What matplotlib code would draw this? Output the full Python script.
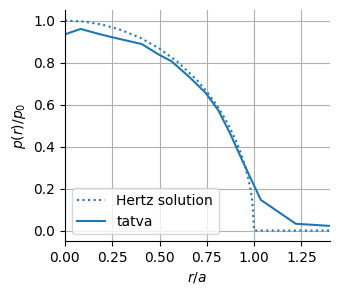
import matplotlib
matplotlib.use("Agg")
import matplotlib.pyplot as plt

# Hertz solution
r_hertz = [0.0, 0.1, 0.2, 0.3, 0.4, 0.5, 0.6, 0.7, 0.75, 0.8, 0.85, 0.9,
           0.93, 0.95, 0.97, 0.98, 0.99, 1.0, 1.4]
p_hertz = [1.0, 0.995, 0.98, 0.954, 0.917, 0.866, 0.8, 0.714, 0.661, 0.6,
           0.527, 0.436, 0.368, 0.312, 0.243, 0.199, 0.141, 0.0, 0.0]

# tatva
r_tatva = [0.0, 0.083, 0.176, 0.247, 0.406, 0.494, 0.565, 0.661, 0.743,
           0.811, 0.873, 0.935, 1.035, 1.22, 1.40]
p_tatva = [0.934, 0.96, 0.937, 0.921, 0.888, 0.839, 0.805, 0.728, 0.656,
           0.572, 0.462, 0.338, 0.146, 0.032, 0.022]

fig = plt.figure(figsize=(3.38, 2.95), dpi=100)
ax = fig.add_axes([0.192, 0.183, 0.784, 0.783])

ax.plot(r_hertz, p_hertz, ':', color='C0', label='Hertz solution')
ax.plot(r_tatva, p_tatva, '-', color='C0', label='tatva')

ax.set_xlim(0, 1.4)
ax.set_ylim(-0.05, 1.05)
ax.set_xticks([0, 0.25, 0.5, 0.75, 1.0, 1.25])
ax.set_xlabel(r'$r/a$')
ax.set_ylabel(r'$p(r)/p_0$')
ax.grid(True)
ax.spines['top'].set_visible(False)
ax.spines['right'].set_visible(False)
ax.legend(loc='lower left')

fig.savefig('out.png', dpi=100)
